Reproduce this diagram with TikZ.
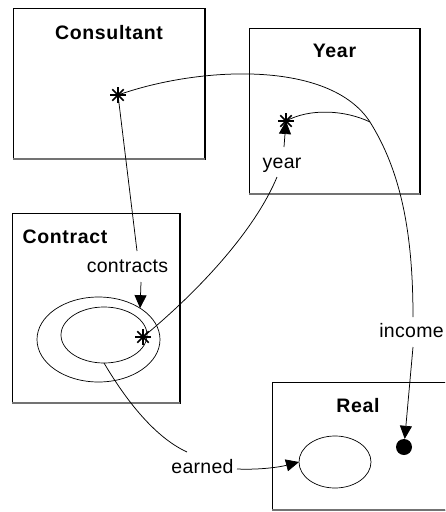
\documentclass[tikz,border=0pt]{standalone}
\usepackage{fontspec}
\setmainfont{Liberation Sans}
\newfontfamily\titlefont{Liberation Sans}[LetterSpace=3.5]
\newfontfamily\rolefont{Liberation Sans}[LetterSpace=1.5]
\usetikzlibrary{arrows.meta,shapes.geometric}

\begin{document}
\begin{tikzpicture}[x=1pt,y=-1pt,
  classbox/.style={draw,line width=0.9pt,rectangle,inner sep=0pt,outer sep=0pt,anchor=north west},
  boxshade/.style={line width=2pt,black!55},
  boxside/.style={line width=1.8pt},
  title/.style={anchor=base,inner sep=0pt,font=\fontsize{19.5}{22}\titlefont\bfseries},
  role/.style={anchor=base,inner sep=0pt,font=\fontsize{19.5}{22}\rolefont},
  set/.style={draw,ellipse,line width=0.7pt,inner sep=0pt,outer sep=0pt},
  link/.style={line width=0.75pt},
  tip/.style={link,-{Triangle[length=13pt,width=12pt]}},
  asterisk/.pic={\foreach \a in {0,45,90,135}
    \draw[line width=1.7pt] (\a:8pt) -- (\a+180:8pt);}
]
\useasboundingbox (0,0) rectangle (445,512);

% class boxes
\node[classbox,minimum width=192pt,minimum height=151pt] (consultant) at (13,8) {};
\node[classbox,minimum width=171pt,minimum height=166pt] (year) at (249,28) {};
\node[classbox,minimum width=168pt,minimum height=190pt] (contract) at (12,213) {};
\begin{scope}
  \clip (0,0) rectangle (445,512);
  \node[classbox,minimum width=200pt,minimum height=128pt] (real) at (272,382) {};
  \draw[boxshade] (real.south west) -- (real.south east);
\end{scope}
\foreach \b in {consultant,year,contract}{
  \draw[boxside] (\b.north east) -- (\b.south east);
  \draw[boxshade] (\b.south west) -- (\b.south east);
}

% class names
\node[title] (tconsultant) at (109,39) {Consultant};
\node[title] (tyear) at (334.5,57) {Year};
\node[title] (tcontract) at (65,243) {Contract};
\node[title] (treal) at (358,412) {Real};

% role names
\node[role] (lcontracts) at (127.5,272) {contracts};
\node[role] (lyear) at (282,168) {year};
\node[role] (lincome) at (411.5,337) {income};
\node[role] (learned) at (202.5,473) {earned};

% sets and elements
\node[set,minimum width=123pt,minimum height=85pt] (outer) at (98.5,339.5) {};
\node[set,minimum width=86pt,minimum height=56pt] (inner) at (104,335) {};
\node[set,minimum width=72pt,minimum height=52pt] (realset) at (335,462) {};
\node[circle,fill,minimum size=16pt,inner sep=0pt] (dot) at (404,447) {};

\coordinate (cstar) at (118,95);
\coordinate (ystar) at (286,121);
\coordinate (kstar) at (143,337);
\coordinate (join) at (370,122);

% label ends
\coordinate (ct-in) at (137,251);
\coordinate (ct-out) at (141,282);
\coordinate (yr-in) at (277,177);
\coordinate (yr-out) at (284,147);
\coordinate (inc-in) at (413,317);
\coordinate (inc-out) at (413,347);
\coordinate (ea-in) at (187,452);
\coordinate (ea-out) at (237,469);

% connectors
\draw[link] (cstar) -- (ct-in);
\draw[tip] (ct-out) -- (outer.37);
\draw[link] (cstar) .. controls (200,66) and (330,60) .. (join)
                    .. controls (400,170) and (413,230) .. (inc-in);
\draw[link] (ystar) .. controls (310,108) and (345,110) .. (join);
\draw[tip] (yr-out) -- (ystar);
\draw[link] (kstar) .. controls (200,290) and (255,230) .. (yr-in);
\draw[link] (inner.south) .. controls (120,390) and (150,435) .. (ea-in);
\draw[tip] (ea-out) .. controls (260,470) and (280,467) .. (realset.west);
\draw[tip] (inc-out) -- (dot);

% element markers
\pic at (cstar) {asterisk};
\pic at (ystar) {asterisk};
\pic at (kstar) {asterisk};
\end{tikzpicture}
\end{document}
